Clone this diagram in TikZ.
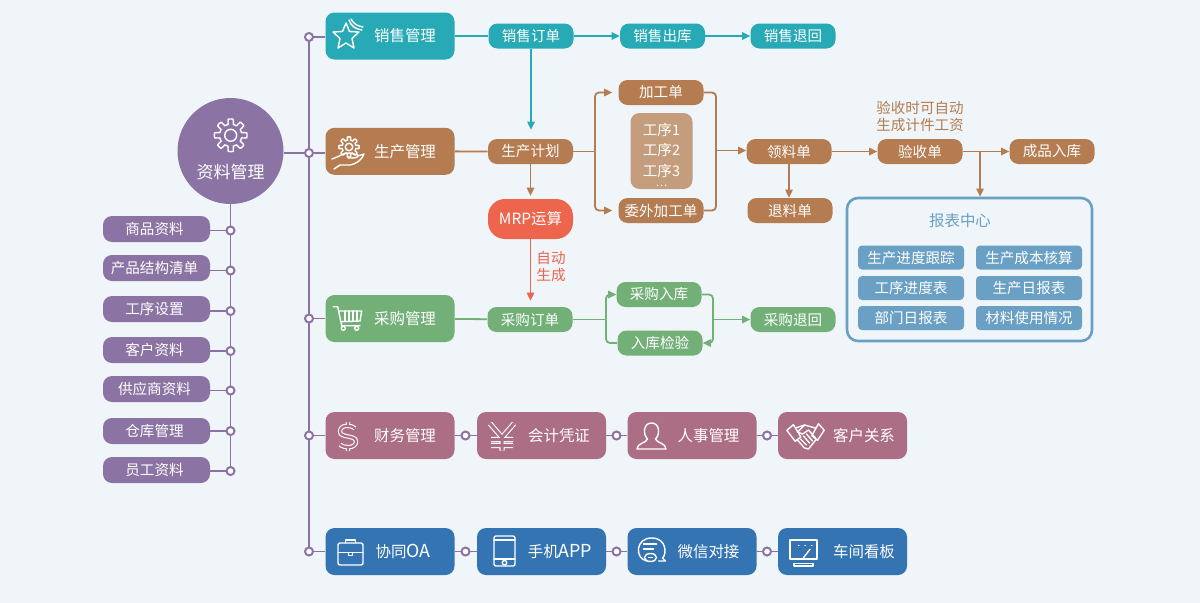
\documentclass[tikz,border=0pt]{standalone}
\usepackage{fontspec}
\setmainfont{Noto Sans CJK SC}
\usepackage{xcolor}
\usetikzlibrary{arrows.meta}
\definecolor{bgcol}{RGB}{239,245,249}
\definecolor{hubcol}{RGB}{139,116,163}
\definecolor{salescol}{RGB}{39,169,182}
\definecolor{prodcol}{RGB}{180,124,80}
\definecolor{stepcol}{RGB}{196,157,124}
\definecolor{buycol}{RGB}{114,176,120}
\definecolor{fincol}{RGB}{171,110,132}
\definecolor{oacol}{RGB}{53,116,178}
\definecolor{mrpcol}{RGB}{237,101,77}
\definecolor{repcol}{RGB}{105,160,195}
\newdimen\pix
\pix=0.75pt
\newcommand{\shifted}[2]{\hspace*{#1\pix}\raisebox{-1.5\pix}{#2}}
\newcommand{\latinbig}[1]{{\fontsize{13.4}{15}\selectfont #1}}
\pgfdeclarelayer{base}
\pgfdeclarelayer{wires}
\pgfsetlayers{base,wires,main}
\tikzset{%
    fbig/.style={font=\fontsize{11.6}{15}\selectfont},
    fsmall/.style={font=\fontsize{10.9}{15}\selectfont},
    mainbox/.style={%
        fill=#1, text=white, fbig, rounded corners=9\pix, inner sep=0pt,
        minimum width=129\pix, minimum height=47\pix
    },
    pill/.style={%
        fill=#1, text=white, fsmall, rounded corners=9\pix, inner sep=0pt,
        minimum width=85\pix, minimum height=25\pix
    },
    leftbox/.style={pill=hubcol, minimum width=107\pix, minimum height=26\pix},
    repbox/.style={%
        fill=repcol, text=white, fsmall, rounded corners=4\pix, inner sep=0pt,
        minimum width=106\pix, minimum height=24\pix
    },
    dot/.style={%
        circle, draw=hubcol, fill=white, line width=2\pix, inner sep=0pt,
        minimum size=8\pix
    },
    link/.style={draw=#1, line width=1.8\pix},
    arr/.style={link=#1, -{Triangle[length=6pt,width=5.4pt]}},
    ico/.style={draw=white, line width=1.4\pix, line join=round, line cap=round},
    ico2/.style={%
        draw=white, line width=1.1\pix, double=fincol, double distance=#1\pix,
        line join=round
    },
    pics/gearico/.style={code={%
        \draw[ico] plot[samples=161, domain=0:360]
            (\x:{13.7+2.6*max(-1,min(1,3*cos(8*\x)))}) -- cycle;
        \draw[ico] (0,0) circle (6);
    }}
}

\begin{document}
\begin{tikzpicture}[x=\pix,y=-\pix]
    \useasboundingbox (0,0) rectangle (1200,603);
    \begin{pgfonlayer}{base}
        \fill[color=bgcol] (0,0) rectangle (1200,603);
    \end{pgfonlayer}

    % centre and the list on its left
    \node[circle, fill=hubcol, text=white, inner sep=0pt, minimum size=106\pix,
        font=\fontsize{12.75}{15}\selectfont, text depth=0pt] (hub) at (230.5,151)
        {\raisebox{-27\pix}{资料管理}};
    \foreach \i/\yb/\yd/\txt in {1/229/230.5/商品资料, 2/268/270.5/产品结构清单, 3/309/311/工序设置,
        4/350/351/客户资料, 5/389/390.5/供应商资料, 6/431/431/仓库管理, 7/470/471/员工资料} {
        \node[leftbox] (item\i) at (156.5,\yb) {\shifted{-4}{\txt}};
        \node[dot] (itemdot\i) at (230.5,\yd) {};
        \begin{pgfonlayer}{wires}
            \draw[link=hubcol] (itemdot\i) -- (itemdot\i -| item\i.east);
        \end{pgfonlayer}
    }

    % main column
    \node[dot] (j1) at (309,37) {};
    \node[dot] (j2) at (309,153) {};
    \node[dot] (j3) at (309,318.5) {};
    \node[dot] (j4) at (309,435.5) {};
    \node[dot] (j5) at (309,551.5) {};
    \node[mainbox=salescol] (sales) at (390,36) {\shifted{30}{销售管理}};
    \node[mainbox=prodcol] (prod) at (390,151.3) {\shifted{30}{生产管理}};
    \node[mainbox=buycol] (buy) at (390,318.5) {\shifted{30}{采购管理}};

    \node[mainbox=fincol] (fin) at (390,435.5) {\shifted{30}{财务管理}};
    \node[mainbox=fincol] (acct) at (541.5,435.5) {\shifted{35}{会计凭证}};
    \node[mainbox=fincol] (hr) at (692,435.5) {\shifted{33}{人事管理}};
    \node[mainbox=fincol] (crm) at (842.5,435.5) {\shifted{43}{客户关系}};
    \node[dot] (r1) at (465.5,435.5) {};
    \node[dot] (r2) at (616.5,435.5) {};
    \node[dot] (r3) at (767,435.5) {};

    \node[mainbox=oacol] (oa) at (390,551.5) {\shifted{26}{协同\latinbig{OA}}};
    \node[mainbox=oacol] (app) at (541.5,551.5) {\shifted{37}{手机\latinbig{APP}}};
    \node[mainbox=oacol] (wx) at (692,551.5) {\shifted{33}{微信对接}};
    \node[mainbox=oacol] (board) at (842.5,551.5) {\shifted{43}{车间看板}};
    \node[dot] (s1) at (465.5,551.5) {};
    \node[dot] (s2) at (616.5,551.5) {};
    \node[dot] (s3) at (767,551.5) {};

    % sales row
    \node[pill=salescol] (order) at (531,36) {销售订单};
    \node[pill=salescol] (out) at (662.5,36) {销售出库};
    \node[pill=salescol] (back) at (793,36) {销售退回};

    % production
    \node[pill=prodcol] (plan) at (530.5,151.5) {生产计划};
    \node[pill=prodcol] (work) at (661,92.5) {加工单};
    \node[pill=prodcol] (subw) at (661,210.5) {委外加工单};
    \node[fill=stepcol, text=white, rounded corners=9\pix, inner sep=0pt, minimum width=62\pix,
        minimum height=76\pix, fsmall, align=center] (steps) at (661.5,151)
        {\rule{0pt}{15pt}工序1\\[0.6pt]工序2\\[0.6pt]工序3\\[-7.5pt]{\fontsize{8}{8}\selectfont …}};
    \node[pill=prodcol] (pick) at (789,151.5) {领料单};
    \node[pill=prodcol] (ret) at (790,210.5) {退料单};
    \node[pill=prodcol] (check) at (920,151.5) {验收单};
    \node[pill=prodcol] (store) at (1052,151.5) {成品入库};
    \node[text=prodcol, fsmall, align=center, inner sep=0pt] (note) at (920,116.5)
        {验收时可自动\\[-2.2pt]生成计件工资};

    \node[pill=mrpcol, minimum height=40\pix, rounded corners=17\pix, fbig] (mrp) at (530.5,219) {MRP运算};
    \node[text=mrpcol, fsmall, align=center, inner sep=0pt] (auto) at (551,266.5) {自动\\[-2.2pt]生成};

    % purchasing
    \node[pill=buycol] (po) at (530,319.5) {采购订单};
    \node[pill=buycol] (inb) at (659,294.5) {采购入库};
    \node[pill=buycol] (qc) at (660,343) {入库检验};
    \node[pill=buycol] (rtv) at (793,319.5) {采购退回};

    % report panel
    \node[draw=repcol, line width=2.6\pix, rounded corners=11\pix, inner sep=0pt, minimum width=245\pix,
        minimum height=143\pix] (panel) at (969.5,269.5) {};
    \node[text=repcol, fbig, inner sep=0pt] (ptitle) at (960,221) {报表中心};
    \node[repbox] (rep1) at (911,257.5) {生产进度跟踪};
    \node[repbox] (rep2) at (1029,257.5) {生产成本核算};
    \node[repbox] (rep3) at (911,288) {工序进度表};
    \node[repbox] (rep4) at (1029,288) {生产日报表};
    \node[repbox] (rep5) at (911,318) {部门日报表};
    \node[repbox] (rep6) at (1029,318) {材料使用情况};

    \coordinate (splitL) at (595,151.5);
    \coordinate (joinR) at (716,150.5);
    \coordinate (branch) at (980,151.5);
    \coordinate (buyL) at (606,319.5);
    \coordinate (buyR) at (713,319.5);

    \begin{pgfonlayer}{wires}
        \draw[link=hubcol] (hub) -- (itemdot7);
        \draw[link=hubcol] (j1) -- (j5);
        \draw[link=hubcol] (j1) -- (j1 -| sales.west);
        \draw[link=hubcol] (j2 -| hub.east) -- (j2 -| prod.west);
        \draw[link=hubcol] (j3) -- (buy);
        \draw[link=hubcol] (j4) -- (fin);
        \draw[link=hubcol] (j5) -- (oa);
        \draw[link=hubcol] (fin) -- (acct);
        \draw[link=hubcol] (acct) -- (hr);
        \draw[link=hubcol] (hr) -- (crm);
        \draw[link=hubcol] (oa) -- (app);
        \draw[link=hubcol] (app) -- (wx);
        \draw[link=hubcol] (wx) -- (board);

        \draw[link=salescol] (sales) -- (order);
        \draw[arr=salescol] (order) -- (out);
        \draw[arr=salescol] (out) -- (back);
        \draw[arr=salescol, shorten >=9\pix] (order.south) -- (order.south |- plan.north);

        \draw[link=prodcol] (prod) -- (plan);
        \draw[link=prodcol] (plan) -- (splitL);
        \draw[arr=prodcol, rounded corners=4\pix, shorten >=6\pix] (splitL) |- (work.west);
        \draw[arr=prodcol, rounded corners=4\pix, shorten >=6\pix] (splitL) |- (subw.west);
        \draw[link=prodcol, rounded corners=4\pix] (work.east) -| (joinR) |- (subw.east);
        \draw[arr=prodcol] (joinR) -- (joinR -| pick.west);
        \draw[arr=prodcol] (pick.south) -- (pick.south |- ret.north);
        \draw[arr=prodcol] (pick) -- (check);
        \draw[arr=prodcol] (check) -- (store);
        \draw[arr=prodcol] (branch) -- (branch |- panel.north);
        \draw[arr=prodcol, shorten >=3\pix] (plan) -- (mrp);

        \draw[link=buycol] (buy) -- (po);
        \draw[link=buycol] (po) -- (buyL);
        \draw[arr=buycol, rounded corners=4\pix] (buyL) |- (inb.west);
        \draw[link=buycol, rounded corners=4\pix] (buyL) |- (qc.west);
        \draw[arr=buycol, rounded corners=4\pix] (inb.east) -| (buyR) |- (qc.east);
        \draw[arr=buycol] (buyR) -- (rtv);
        \draw[arr=mrpcol, shorten >=6\pix] (mrp) -- (mrp |- po.north);
    \end{pgfonlayer}

    % icons
    \pic at (230.7,135.3) {gearico};
    \begin{scope}[shift={(346,36)}]
        \draw[ico] (0,-13) -- (3.5,-4.5) -- (13,-4) -- (6,2.5) -- (8,12) -- (0,7) -- (-8,12) -- (-6,2.5)
            -- (-13,-4) -- (-3.5,-4.5) -- cycle;
        \draw[ico] (3,-16) .. controls (5,-10) and (9,-7) .. (16,-6);
        \draw[ico] (5,-17) .. controls (8,-12) and (11,-10) .. (17,-9);
    \end{scope}
    \pic[scale=0.62] at (349,147) {gearico};
    \draw[ico] (332,159) .. controls (339,157) and (344,152) .. (350,153) -- (358,155)
        .. controls (359,158) and (355,158) .. (348,158);
    \draw[ico] (358,156) -- (364,154) .. controls (362,160) and (356,164) .. (350,165)
        -- (340,165) -- (334,169);
    \begin{scope}[shift={(347,318)}]
        \draw[ico] (-13.7,-11.3) -- (-9.3,-11.3) -- (-5.3,7.7) -- (13,7.7);
        \draw[ico] (-8,-7) -- (14.7,-7) -- (13,3) -- (-5.8,3.7);
        \draw[ico] (-2,-7) -- (-2,3) (2,-7) -- (2,3) (6,-7) -- (6,3) (10,-7) -- (10,3);
        \draw[ico] (-3.7,10.3) circle (2) (9.7,10.3) circle (2);
    \end{scope}
    \begin{scope}[shift={(348,436.5)}]
        \draw[ico2=2.2] (7,-8) .. controls (3,-12) and (-8,-12) .. (-8,-5)
            .. controls (-8,2) and (8,-2) .. (8,5) .. controls (8,12) and (-4,12) .. (-8,8)
            (0,-14.5) -- (0,-11) (0,11) -- (0,14.5);
    \end{scope}
    \begin{scope}[shift={(502,436.5)}]
        \draw[ico2=3] (-12,-13) -- (0,1) -- (12,-13) (0,1) -- (0,14) (-11,3) -- (11,3) (-11,9) -- (11,9);
    \end{scope}
    \begin{scope}[shift={(651.5,436)}]
        \draw[ico] (-14.5,13) .. controls (-14.5,7) and (-5,7) .. (-4,3) .. controls (-9,-2) and (-8,-13) .. (0,-13)
            .. controls (8,-13) and (9,-2) .. (4,3) .. controls (5,7) and (14.5,7) .. (14.5,13) -- cycle;
    \end{scope}
    \begin{scope}[shift={(805.5,436)}]
        \draw[ico] (-18.7,-5.7) -- (-12,-11.3) -- (-4.7,1) -- (-10.3,5.3) -- cycle;
        \draw[ico] (18.7,-5.7) -- (13,-12.3) -- (6.3,-0.3) -- (12,4.3) -- cycle;
        \draw[ico] (-10,-8) -- (-1,-11) -- (10,-8);
        \draw[ico] (-1,-11) -- (-8,-4) -- (-3,-2) -- (3,-6) -- (10,2);
        \draw[ico] (-8,4) -- (-1,12) -- (3,13) -- (11,3);
        \draw[ico] (-5,3) -- (1,9) (-2,0) -- (4,7) (1,-2) -- (7,5);
    \end{scope}
    \begin{scope}[shift={(350.5,552.5)}]
        \draw[ico, rounded corners=2\pix] (-12.5,-9.5) rectangle (12.5,12.5);
        \draw[ico] (-5,-9.5) -- (-5,-12.5) -- (5,-12.5) -- (5,-9.5);
        \draw[ico] (-12.5,0) -- (12.5,0);
        \draw[ico] (-2,0) -- (-2,3) -- (2,3) -- (2,0);
    \end{scope}
    \begin{scope}[shift={(504.5,551)}]
        \draw[ico, rounded corners=2\pix] (-10.5,-15) rectangle (10.5,15);
        \draw[ico] (-10.5,-11) -- (10.5,-11) (-10.5,8) -- (10.5,8);
        \draw[ico] (0,11.7) circle (2.3);
    \end{scope}
    \begin{scope}[shift={(651.5,549)}]
        \draw[ico] (-5,12) .. controls (-17,9) and (-16,-11) .. (0,-11) .. controls (16,-11) and (15,6) .. (11,9) -- (14,12) -- (7,12);
        \draw[ico] (-8,-5) -- (5,-5) (-8,0) -- (2,0);
        \draw[ico] (-1,8.5) ellipse (6 and 4);
        \draw[ico] (-3,8.5) -- (1,8.5);
    \end{scope}
    \begin{scope}[shift={(803.5,551)}]
        \draw[ico] (-13.5,-11) rectangle (13.5,8);
        \draw[ico] (-5,-5.7) -- (-4.6,-5.7) (1.5,-5.7) -- (1.9,-5.7) (8,-5.7) -- (8.4,-5.7);
        \draw[ico] (6.5,-1.7) -- (0,6.7);
        \draw[ico] (-9.5,12.5) rectangle (9.5,15);
    \end{scope}
\end{tikzpicture}
\end{document}
